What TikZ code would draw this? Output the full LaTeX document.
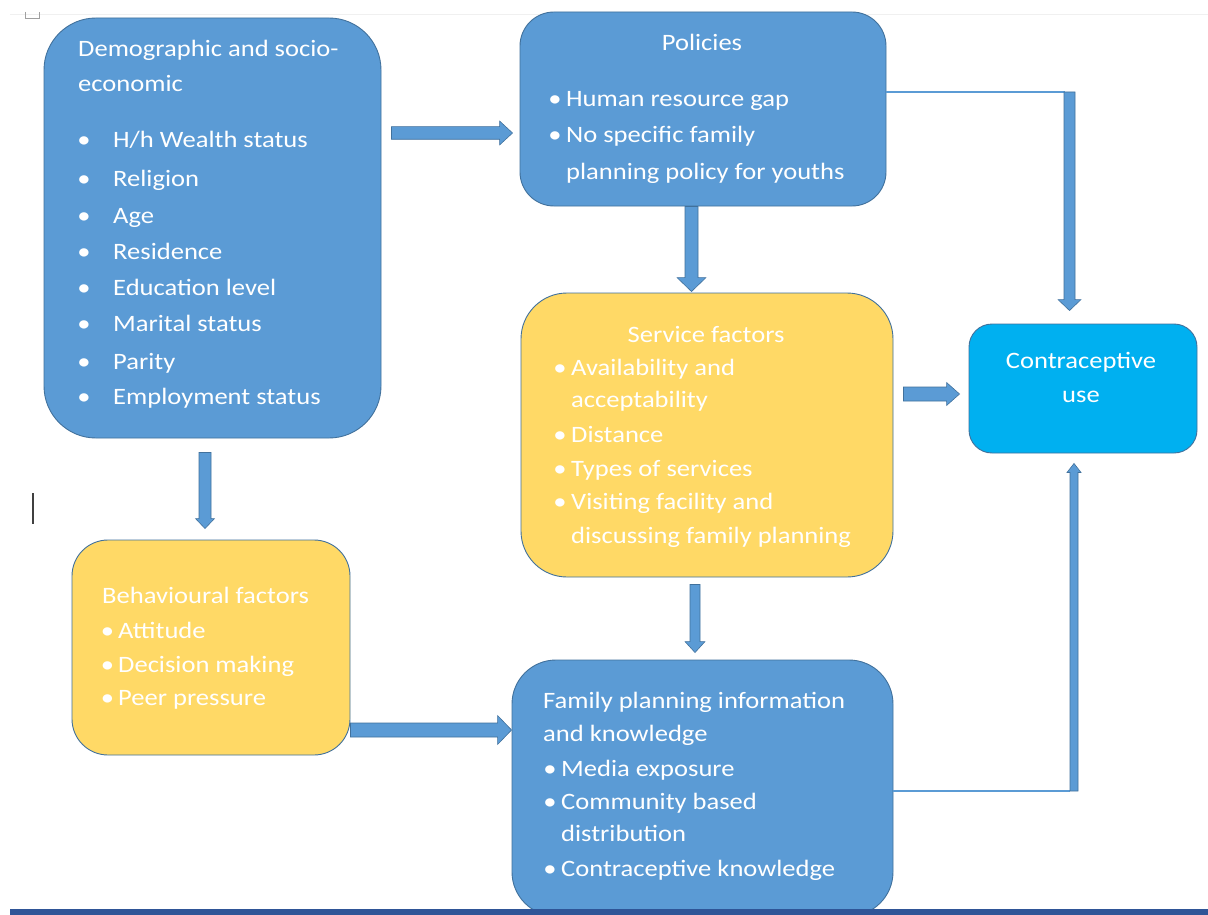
\documentclass[tikz,border=0pt]{standalone}
\usepackage{fontspec}
\setmainfont{Carlito}[FakeStretch=1.13]
\usetikzlibrary{calc}
\definecolor{boxblue}{HTML}{5B9BD5}
\definecolor{boxedge}{HTML}{41719C}
\definecolor{boxyellow}{HTML}{FFD966}
\definecolor{boxcyan}{HTML}{00B0F0}
\definecolor{barblue}{HTML}{2F5597}
\definecolor{faint}{HTML}{F0F0F0}
\definecolor{markgray}{HTML}{A0A0A0}
\newcommand\dfs{\fontsize{23.5}{28}\selectfont}
\tikzset{
  box/.style={draw=boxedge, line width=0.9pt, inner sep=0pt},
  bluebox/.style={box, fill=boxblue},
  yellowbox/.style={box, fill=boxyellow},
  cyanbox/.style={box, fill=boxcyan},
  txt/.style={anchor=base west, inner sep=0pt, text=white, font=\dfs},
  ctxt/.style={anchor=base, inner sep=0pt, text=white, font=\dfs},
  bul/.style={anchor=base, inner sep=0pt, text=white, font=\dfs},
  thinlink/.style={draw=boxblue, line width=1.3pt},
  barrow/.style n args={3}{draw=boxedge, line width=0.6pt, fill=boxblue,
    to path={coordinate (bas) ($(\tikztotarget)!#3!(\tikztostart)$) coordinate (bah)
      ($(bas)!#1!90:(bah)$) -- ($(bah)!#1!-90:(bas)$) -- ($(bah)!#2!-90:(bas)$)
      -- (\tikztotarget) -- ($(bah)!#2!90:(bas)$) -- ($(bah)!#1!90:(bas)$)
      -- ($(bas)!#1!-90:(bah)$) -- cycle}}
}
\begin{document}
\begin{tikzpicture}[x=1pt,y=-1pt]
\useasboundingbox (0,0) rectangle (1208,915);
\fill[white] (0,0) rectangle (1208,915);
% screenshot artefacts
\draw[faint, line width=0.8pt] (10,14) -- (1208,14);
\draw[markgray, line width=0.8pt] (25.5,12) -- (25.5,18) -- (39.5,18) -- (39.5,12);
\draw[black!75, line width=1.6pt] (33,493) -- (33,524);

% boxes
\node[bluebox, rounded corners=52pt, minimum width=337pt, minimum height=420pt] (A) at (212.5,228) {};
\node[bluebox, rounded corners=34pt, minimum width=366pt, minimum height=194pt] (B) at (703,109) {};
\node[yellowbox, rounded corners=46pt, minimum width=372pt, minimum height=284pt] (C) at (707,435) {};
\node[cyanbox, rounded corners=23pt, minimum width=228pt, minimum height=129pt] (D) at (1083,388.5) {};
\node[yellowbox, rounded corners=36pt, minimum width=278pt, minimum height=215pt] (E) at (211,647.5) {};
\node[bluebox, rounded corners=44pt, minimum width=381pt, minimum height=256pt] (F) at (702.5,788) {};

% bottom bar
\fill[barblue] (10,908.5) rectangle (1208,915);

% texts A
\node[txt] (at1) at (78,57) {Demographic and socio-};
\node[txt] (at2) at (78,92) {economic};
\foreach \t/\y [count=\i] in {{H/h Wealth status}/148,Religion/186,Age/223,Residence/259,{Education level}/295,{Marital status}/331,Parity/369,{Employment status}/404}{
  \node[bul] (ab\i) at (84,\y) {\textbullet};
  \node[txt] (a\i) at (113,\y) {\t};
}
% texts B
\node[ctxt] (bt) at (702,51) {Policies};
\node[bul] (bb1) at (555,107) {\textbullet};
\node[txt] (b1) at (566,107) {Human resource gap};
\node[bul] (bb2) at (555,143) {\textbullet};
\node[txt] (b2) at (566,143) {No specific family};
\node[txt] (b3) at (566,179) {planning policy for youths};
% texts C
\node[ctxt] (ct) at (706,342) {Service factors};
\node[bul] (cb1) at (560,375) {\textbullet};
\node[txt] (c1) at (571,375) {Availability and};
\node[txt] (c2) at (571,407) {acceptability};
\node[bul] (cb3) at (560,442) {\textbullet};
\node[txt] (c3) at (571,442) {Distance};
\node[bul] (cb4) at (560,476) {\textbullet};
\node[txt] (c4) at (571,476) {Types of services};
\node[bul] (cb5) at (560,509) {\textbullet};
\node[txt] (c5) at (571,509) {Visiting facility and};
\node[txt] (c6) at (571,543) {discussing family planning};
% texts D
\node[ctxt] (d1) at (1081,368) {Contraceptive};
\node[ctxt] (d2) at (1081,402) {use};
% texts E
\node[txt] (et) at (102,603) {Behavioural factors};
\node[bul] (eb1) at (107.5,638) {\textbullet};
\node[txt] (e1) at (118,638) {Attitude};
\node[bul] (eb2) at (107.5,672) {\textbullet};
\node[txt] (e2) at (118,672) {Decision making};
\node[bul] (eb3) at (107.5,705) {\textbullet};
\node[txt] (e3) at (118,705) {Peer pressure};
% texts F
\node[txt] (ft1) at (543,708) {Family planning information};
\node[txt] (ft2) at (543,741) {and knowledge};
\node[bul] (fb1) at (550,776) {\textbullet};
\node[txt] (f1) at (561,776) {Media exposure};
\node[bul] (fb2) at (550,809) {\textbullet};
\node[txt] (f2) at (561,809) {Community based};
\node[txt] (f3) at (561,841) {distribution};
\node[bul] (fb4) at (550,876) {\textbullet};
\node[txt] (f4) at (561,876) {Contraceptive knowledge};

% arrow end points, taken from the boxes
\coordinate (abS) at ([shift={(10pt,95pt)}]A.east);
\coordinate (abT) at ($(abS -| B.west)+(-7,0)$);
\coordinate (bcS) at ([xshift=-11.5pt]B.south);
\coordinate (bcT) at ($(bcS |- C.north)+(0,-1)$);
\coordinate (cfS) at ([shift={(-12pt,-7pt)}]C.south);
\coordinate (cfT) at ($(cfS |- F.north)+(0,-7)$);
\coordinate (aeS) at ([shift={(-7.5pt,-14pt)}]A.south);
\coordinate (aeT) at ($(aeS |- E.north)+(0,-11)$);
\coordinate (efS) at ([yshift=-82.5pt]E.east);
\coordinate (efT) at ($(efS -| F.west)+(0,0)$);
\coordinate (cdS) at ([shift={(10pt,41pt)}]C.east);
\coordinate (cdT) at ($(cdS -| D.west)+(-9,0)$);
\coordinate (bdL) at ([yshift=17pt]B.east);
\coordinate (bdX) at ([xshift=-13.5pt]D.north);
\coordinate (bd) at (bdX |- bdL);
\coordinate (bdT) at ($(bdX)+(0,-13)$);
\coordinate (fdL) at ([yshift=-3pt]F.east);
\coordinate (fdX) at ([xshift=-9pt]D.south);
\coordinate (fd) at (fdX |- fdL);
\coordinate (fdT) at ($(fdX)+(0,10)$);

% block arrows
\draw[barrow={6.3pt}{12pt}{13pt}] (abS) to (abT);
\draw[barrow={6.5pt}{14.5pt}{14pt}] (bcS) to (bcT);
\draw[barrow={5pt}{10pt}{11pt}] (cfS) to (cfT);
\draw[barrow={6pt}{9.5pt}{10pt}] (aeS) to (aeT);
\draw[barrow={7pt}{14.5pt}{14pt}] (efS) to (efT);
\draw[barrow={7pt}{11.5pt}{13pt}] (cdS) to (cdT);
% B -> D
\draw[thinlink] (bdL) -- ($(bd)+(-5,0)$);
\draw[barrow={5.5pt}{11.5pt}{11pt}] (bd) to (bdT);
% F -> D
\draw[thinlink] (fdL) -- ($(fd)+(-4,0)$);
\draw[barrow={4pt}{7pt}{9pt}] (fd) to (fdT);
\end{tikzpicture}
\end{document}
